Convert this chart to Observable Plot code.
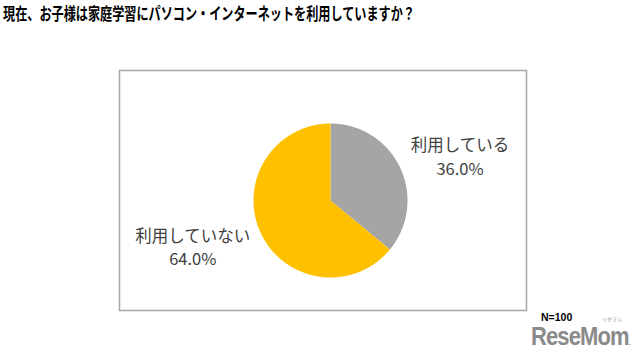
<!DOCTYPE html>
<html><head><meta charset="utf-8">
<script src="https://cdn.jsdelivr.net/npm/d3@7"></script>
<script src="https://cdn.jsdelivr.net/npm/@observablehq/plot@0.6"></script>
<style>
html,body{margin:0;padding:0;background:#fff;}
#wrap{position:relative;width:640px;height:357px;overflow:hidden;font-family:"Noto Sans CJK JP","Noto Sans",sans-serif;}
#titlebox{position:absolute;left:0;top:0;}
#n{position:absolute;left:541px;top:312px;font-size:10.5px;line-height:11px;font-weight:700;color:#000;font-family:"Liberation Sans",Arial,sans-serif;z-index:2;}
#logo{position:absolute;left:531px;top:326px;font-size:25px;line-height:20px;font-weight:700;color:#8a8a8a;font-family:"Liberation Sans",Arial,sans-serif;letter-spacing:-1px;transform:scaleX(0.88);transform-origin:0 0;white-space:nowrap;}
#kana{position:absolute;left:602px;top:316px;font-size:5px;line-height:5px;color:#999;}
#chart{position:absolute;left:0;top:0;}
</style></head>
<body><div id="wrap">
<div id="chart"></div>
<div id="titlebox"></div>
<div id="logo">ReseMom<span style="font-size:8px">.</span></div>
<div id="kana">リセマム</div>
<div id="n">N=100</div>
</div>
<script>
const titleText = "現在、お子様は家庭学習にパソコン・インターネットを利用していますか？";
const categories = ["利用している", "利用していない"];
const values = [36.0, 64.0];
const colors = ["#A5A5A5", "#FFC000"];

// title as SVG text compressed horizontally like the original
const tsvg = d3.select("#titlebox").append("svg").attr("width", 640).attr("height", 28);
tsvg.append("text")
  .attr("x", 3).attr("y", 19.5)
  .attr("textLength", 412).attr("lengthAdjust", "spacingAndGlyphs")
  .attr("font-family", "'Noto Sans CJK JP', sans-serif")
  .attr("font-size", 16.5).attr("font-weight", 700).attr("fill", "#000")
  .text(titleText);

const R = 77;
const FS = 16.5;
const total = d3.sum(values);
const arcs = [];
let start = 0;
categories.forEach((c, i) => {
  const a0 = start, a1 = start + values[i] / total * 2 * Math.PI;
  start = a1;
  const pts = [{x: 0, y: 0}];
  const n = Math.max(2, Math.ceil((a1 - a0) / (Math.PI / 360)));
  for (let k = 0; k <= n; k++) {
    const a = a0 + (a1 - a0) * k / n;
    pts.push({x: R * Math.sin(a), y: -R * Math.cos(a)});
  }
  const mid = (a0 + a1) / 2 + 6 * Math.PI / 180;
  const side = Math.sign(Math.sin(mid));
  const w = c.length * FS;
  arcs.push({cat: c, value: values[i], color: colors[i], pts,
    lx: side * (R + 3 + w / 2), ly: -138 * Math.cos(mid)});
});

const labels = arcs.map(a => ({x: a.lx, y: a.ly, text: a.cat + "\n" + a.value.toFixed(1) + "%"}));

const plot = Plot.plot({
  width: 640, height: 357,
  marginLeft: 119, marginRight: 114, marginTop: 70, marginBottom: 47,
  x: {domain: [-211, 196], axis: null},
  y: {domain: [-130, 110], range: [70, 310], axis: null},
  style: {background: "transparent"},
  marks: [
    Plot.frame({stroke: "#a6a6a6", strokeWidth: 1.5, fill: "#fff"}),
    ...arcs.map(a => Plot.line(a.pts, {x: "x", y: "y", fill: a.color, stroke: "none", curve: "linear-closed"})),
    Plot.text(labels, {x: "x", y: "y", text: "text", fontSize: FS, lineHeight: 1.45, fill: "#404040",
      fontFamily: "'Noto Sans CJK JP', sans-serif"})
  ]
});
document.getElementById("chart").appendChild(plot);
</script>
</body></html>
